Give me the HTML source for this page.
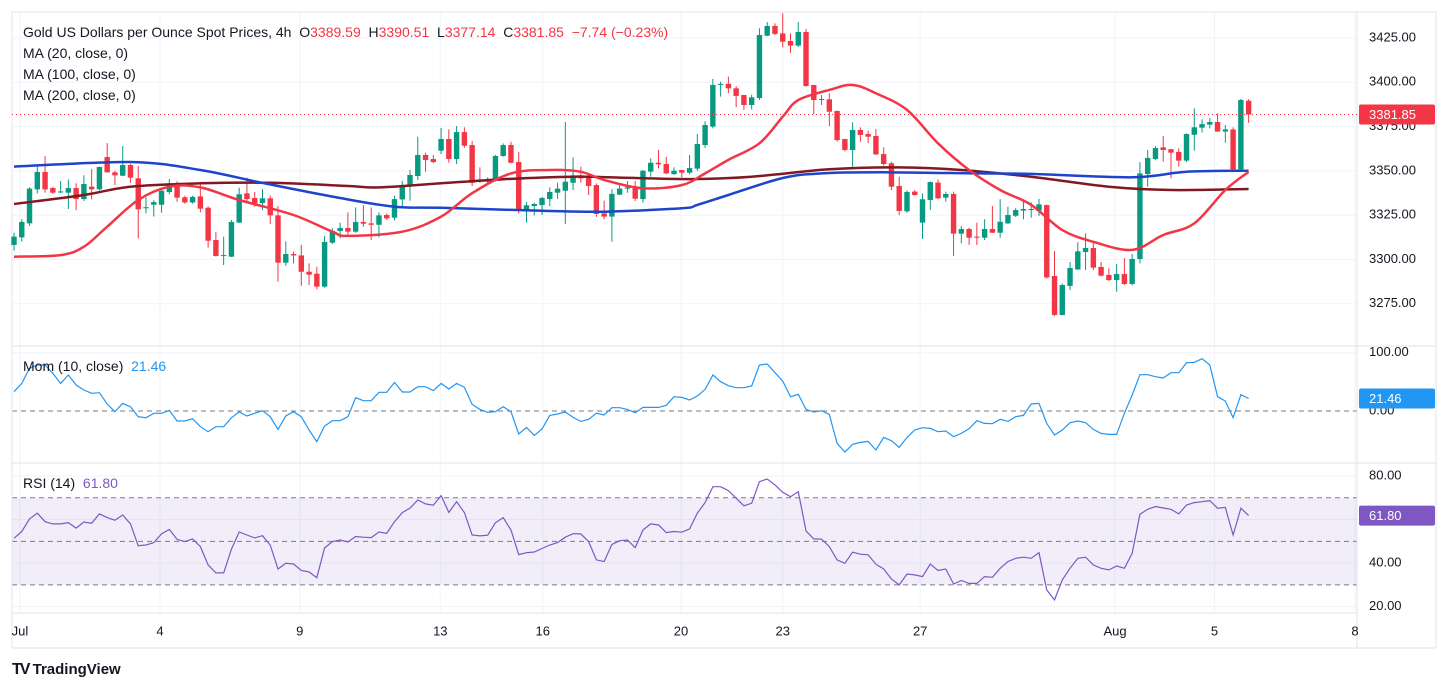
<!DOCTYPE html>
<html><head><meta charset="utf-8">
<style>
html,body{margin:0;padding:0;background:#fff;}
body{width:1449px;height:693px;overflow:hidden;font-family:"Liberation Sans",Arial,sans-serif;}
#wrap{position:relative;width:1449px;height:693px;}
svg{position:absolute;left:0;top:0;}
.legend{position:absolute;left:23px;font-size:14px;color:#131722;white-space:nowrap;}
.red{color:#F23645;}
</style></head>
<body>
<div id="wrap">
<svg id="chart" width="1449" height="693"></svg>
<div class="legend" style="top:24px">Gold US Dollars per Ounce Spot Prices, 4h&nbsp; O<span class="red">3389.59</span>&nbsp; H<span class="red">3390.51</span>&nbsp; L<span class="red">3377.14</span>&nbsp; C<span class="red">3381.85</span>&nbsp; <span class="red">−7.74 (−0.23%)</span></div>
<div class="legend" style="top:45px">MA (20, close, 0)</div>
<div class="legend" style="top:66px">MA (100, close, 0)</div>
<div class="legend" style="top:87px">MA (200, close, 0)</div>
<div class="legend" style="top:358px">Mom (10, close)&nbsp; <span style="color:#2196F3">21.46</span></div>
<div class="legend" style="top:475px">RSI (14)&nbsp; <span style="color:#7E57C2">61.80</span></div>
<div style="position:absolute;left:12px;top:661px;font-size:15px;font-weight:bold;color:#131722"><span style="font-size:16px;letter-spacing:-2px">TV</span>&nbsp;TradingView</div>
</div>
<script>
const opens=[3308.2,3312.5,3320.4,3339.6,3349.4,3340.3,3338.1,3337.7,3340.3,3334.1,3341.1,3339.6,3357.8,3349.2,3347.3,3353.3,3345.8,3328.9,3330.9,3330.9,3338.1,3343.0,3335.1,3332.2,3335.6,3329.2,3311.0,3302.3,3301.6,3320.8,3337.3,3334.7,3331.9,3334.5,3324.9,3298.2,3303.1,3302.3,3293.1,3292.0,3284.7,3309.5,3316.1,3317.8,
3315.7,3321.2,3320.4,3319.6,3325.1,3323.6,3333.9,3341.5,3347.1,3359.0,3356.7,3361.4,3368.0,3356.7,3371.9,3364.6,3345.2,3343.9,3344.9,3358.4,3364.6,3355.0,3328.3,3330.2,3330.7,3334.1,3337.7,3338.8,3343.3,3347.5,3347.1,3342.0,3326.0,3324.2,3336.6,3340.0,3341.1,3334.1,3349.6,3354.6,3353.9,3348.2,3350.5,3349.0,
3351.3,3364.6,3375.0,3398.5,3399.1,3396.6,3392.8,3387.2,3391.1,3426.3,3431.8,3427.6,3423.3,3420.7,3428.4,3398.5,3390.6,3390.4,3383.8,3368.0,3361.8,3373.1,3370.8,3369.7,3359.5,3354.3,3341.5,3327.2,3338.3,3320.8,3333.6,3343.4,3334.9,3337.0,3314.6,3317.2,3312.9,3312.3,3317.2,3315.1,3320.4,3324.7,3327.6,
3328.3,3327.6,3330.7,3290.7,3268.7,3285.1,3294.4,3304.2,3306.5,3295.8,3291.3,3288.4,3291.8,3286.2,3300.3,3348.2,3356.7,3363.3,3362.2,3360.7,3355.8,3370.4,3374.4,3376.1,3377.6,3372.2,3373.4,3350.9,3389.59];
const highs=[3315.1,3322.7,3340.7,3353.3,3358.4,3341,3344.3,3345.2,3343,3347.5,3351.1,3352.5,3365.7,3350,3364.0,3354,3352.8,3335.1,3333.5,3339.6,3345.4,3344.1,3336,3336,3342.6,3330,3315.5,3312.9,3322.3,3340.5,3346.2,3338.1,3339.8,3336,3330.2,3310.2,3304.4,3308.2,3297.8,3295.9,3313.3,3317.6,3320.8,3326.6,
3329.4,3330.7,3329.4,3326.6,3326.0,3336.0,3344.3,3350.5,3369.3,3360.3,3359.0,3374.2,3373.4,3375.3,3374.6,3366.9,3352.0,3346.4,3359,3365.5,3366.5,3360.7,3332.4,3332.1,3335.4,3340.7,3343.3,3377.6,3357.6,3352.4,3348.6,3343.0,3333.2,3339.6,3341.8,3344.3,3344.3,3350.5,3357.1,3361.8,3358.0,3352.0,3350.5,3359.0,
3370.8,3378,3401.9,3400.4,3403.2,3397.9,3393,3393,3430.5,3434.0,3433.3,3438.9,3427.6,3434.0,3430.1,3398.5,3392.8,3393.8,3384,3368,3377.4,3374.6,3372.7,3373.6,3363.3,3355.2,3346.7,3339,3339.2,3337.3,3344,3345.2,3338.3,3338.3,3318.9,3318,3320.8,3322.7,3330.2,3334.0,3329.8,3329,3334.0,
3332.3,3334.2,3331,3304.8,3286.5,3298.6,3309.7,3314.7,3309.5,3298.6,3295.0,3297.5,3300.8,3303.1,3355.0,3361.8,3364.0,3369.7,3362.5,3362.7,3371.2,3385.3,3379.1,3379.7,3382.5,3375.9,3374.6,3390.6,3390.51];
const lows=[3305,3310.1,3318.9,3337.3,3337.7,3337,3337.5,3328.5,3327.9,3333,3333.9,3339,3349,3342,3347,3343.3,3311.9,3326.0,3324.2,3326.4,3336.8,3332.6,3331.5,3331.5,3326.6,3306.7,3301.6,3296.9,3301.4,3320.8,3333,3329.8,3327.9,3320.0,3287.5,3296.5,3297.8,3285.2,3285.6,3283.2,3284,3308.7,3311.9,3314,
3315.1,3318.5,3311.0,3312.5,3322.3,3322,3330.2,3333.2,3344.9,3349.6,3354.3,3359.5,3354.6,3353.9,3363,3341.5,3343.3,3342.6,3344,3358,3354.3,3326.0,3320.8,3324.9,3325.1,3330.2,3334.3,3320.0,3339.2,3343.3,3336.4,3324,3322.7,3310.1,3336.4,3337.7,3333,3332.1,3346.7,3351.4,3348.2,3347.7,3346.4,3348,
3350,3363,3374,3391.9,3393.8,3385.9,3384.4,3384.7,3390,3426,3426.7,3419.7,3416.7,3420,3397.5,3382.1,3387.2,3375.3,3366.5,3361,3352.0,3366.5,3365.6,3359,3353.0,3339.2,3325.1,3326.4,3336,3311.6,3328.0,3334,3332.6,3302.0,3309.1,3308.2,3308.2,3311,3315,3312.3,3320.0,3324,3322.7,
3323.6,3324.5,3289.2,3268.1,3268.5,3282.8,3294.1,3294.1,3294,3290.3,3288,3281.8,3285.6,3285.4,3297.8,3341.1,3356,3355.2,3345.8,3352.4,3355,3361.4,3371.6,3374.0,3372,3365.9,3350.1,3349.6,3377.14];
const closes=[3312.9,3321.2,3340.0,3349.4,3339.6,3337.7,3338.4,3340.3,3334.1,3342.6,3339.6,3352.2,3349.2,3347.5,3353.3,3346.2,3328.3,3329.5,3332.4,3338.8,3343.0,3334.9,3332.2,3335.3,3328.7,3310.6,3302.0,3302.5,3321.2,3336.8,3334.1,3331.7,3334.5,3324.9,3298.2,3303.1,3302.3,3293.1,3291.4,3284.7,3309.9,3316.1,3317.8,3315.7,
3321.2,3320.2,3319.6,3324.9,3323.2,3334.1,3342.0,3347.7,3359.0,3356.1,3355.0,3368.0,3356.7,3371.9,3364.2,3343.3,3343.9,3345.4,3358.4,3364.6,3354.6,3328.3,3330.6,3331.3,3334.7,3338.1,3340.0,3343.9,3347.5,3345.8,3341.5,3325.7,3324.2,3337.0,3340.0,3340.7,3334.3,3350.1,3354.6,3353.7,3348.6,3350.1,3349.0,3351.6,
3365.2,3375.9,3398.5,3399.1,3396.6,3392.3,3387.2,3391.5,3426.7,3431.8,3427.3,3422.9,3420.7,3428.4,3397.9,3390.0,3390.4,3383.4,3367.4,3361.8,3373.1,3370.3,3369.3,3359.3,3353.9,3341.1,3327.4,3338.1,3336.4,3334.0,3343.7,3334.5,3337.0,3314.6,3317.2,3312.3,3312.3,3317.2,3315.1,3321.3,3325.1,3327.9,3328.5,
3328.5,3331.1,3289.9,3268.7,3285.6,3295.2,3304.6,3306.5,3295.4,3290.9,3288.4,3291.8,3286.2,3300.3,3348.6,3357.3,3362.9,3361.8,3360.3,3355.8,3370.8,3374.6,3376.4,3377.6,3372.2,3373.4,3350.9,3390.0,3381.85];
const ma20Idx=[0,6,9,12,16,20,24,29,36,41,43,50,55,59,64,69,73,76,81,86,89,92,96,99,101,105,108,111,115,119,123,127,131,135,139,144,148,152,156,159];
const ma20Val=[3301.6,3302.5,3307.2,3318.5,3333.6,3341.1,3340.7,3333.6,3325.1,3315.7,3313.3,3315.7,3324.2,3337.4,3348.6,3350.5,3349.5,3344.9,3340.2,3342.0,3348.6,3356.2,3365.6,3380.6,3390.0,3395.7,3398.5,3393.8,3384.4,3365.6,3350.5,3339.2,3330.8,3316.6,3310.0,3305.4,3313.8,3320.4,3339.2,3349.5];
const ma100Idx=[0,15,24,32,42,49,55,68,76,86,88,92,99,104,112,124,131,144,151,159];
const ma100Val=[3352.4,3355.0,3350.5,3343.2,3334.7,3329.8,3329.2,3327.5,3327.0,3328.9,3330.8,3336.4,3346.0,3348.6,3349.2,3348.6,3348.3,3346.4,3349.5,3350.1];
const ma200Idx=[0,9,15,24,33,43,47,55,63,72,78,87,95,105,114,122,131,141,149,159];
const ma200Val=[3331.3,3336.4,3341.1,3343.0,3343.3,3341.5,3340.7,3343.0,3345.3,3346.7,3346.2,3345.4,3346.7,3350.9,3352.0,3350.5,3346.7,3341.1,3339.2,3339.8];
const momVals=[33.1,47.4,73.1,78.9,78.9,64.6,47.4,61.7,44.6,36.0,30.3,31.4,12.0,-1.2,13.1,7.4,-9.8,-11.5,-4.0,-4.0,1.1,-17.2,-17.2,-13.2,-26.9,-35.5,-26.9,-26.9,-11.5,-1.8,-8.6,-4.0,0.5,-9.8,-31.5,-8.6,-1.2,-9.8,-32.6,-52.6,-25.8,-16.6,-16.6,-9.8,22.8,17.7,17.7,32.0,32.0,49.1,32.6,32.6,41.7,41.7,34.8,47.4,37.7,47.4,40.6,11.4,2.8,-2.3,-1.2,7.4,-1.2,-39.5,-28.1,-41.8,-30.9,-7.5,-5.2,-1.8,-10.9,-17.8,-14.3,-4.0,-6.9,5.7,5.7,2.8,-2.9,6.2,
6.2,6.2,9.7,24.5,23.4,18.8,25.7,37.1,61.7,50.3,43.4,40.0,40.0,42.8,78.9,80.6,65.7,51.4,24.5,28.5,2.8,-1.8,0.5,-5.8,-55.5,-70.4,-57.2,-53.8,-52.1,-66.9,-45.2,-50.9,-62.4,-45.2,-32.6,-28.6,-29.8,-35.5,-34.3,-44.1,-38.4,-30.3,-16.6,-21.2,-21.8,-14.3,-17.8,-9.8,-7.5,12.0,13.1,-21.2,-41.2,-32.6,-20.1,-17.2,-20.1,-31.5,-38.4,-40.1,-40.1,-4.0,27.4,62.3,62.3,58.9,56.6,65.7,65.7,82.9,83.4,89.7,78.9,24.5,17.1,-11.5,28.0,21.46];
const rsiVals=[51.4,54.5,60.3,62.9,59.0,58.0,58.0,58.6,56.1,58.9,58.3,62.6,60.9,59.7,62.1,58.0,48.0,48.3,49.4,53.4,55.5,50.9,49.9,51.1,47.6,39.2,35.5,35.5,46.4,54.3,52.9,51.6,52.6,48.3,37.3,39.9,39.6,36.6,35.9,33.3,47.0,49.9,50.6,49.7,52.2,51.9,51.7,54.3,53.7,59.0,63.2,65.2,69.0,67.2,66.6,71.0,63.3,68.2,63.2,52.9,52.5,52.8,58.5,60.9,55.2,43.9,44.8,45.1,46.7,48.3,49.4,51.9,53.5,53.4,49.9,41.5,40.7,48.6,50.3,50.6,47.1,55.2,
58.0,57.5,54.0,54.5,54.2,55.7,62.9,67.8,75.1,75.1,73.3,69.8,66.3,67.5,77.4,78.6,75.9,72.5,70.5,72.8,54.8,51.1,51.0,47.6,41.5,39.9,45.0,44.1,43.8,39.5,37.3,32.7,30.0,35.0,34.6,33.8,39.6,36.6,37.3,30.4,32.0,30.7,30.7,33.8,33.5,37.6,40.7,42.2,42.7,42.2,44.8,27.7,23.1,32.3,37.6,42.2,42.7,39.2,37.6,36.9,38.7,37.6,44.5,62.4,64.7,66.0,65.3,64.7,62.6,66.7,67.8,68.2,68.7,65.2,65.6,52.9,65.2,61.8];
const priceTicks=[3425,3400,3375,3350,3325,3300,3275];
const momTicks=[100,0];
const rsiTicks=[80,60,40,20];
const rsiBands=[70,50,30];
const dateLabels=['Jul','4','9','13','16','20','23','27','Aug','5','8'];
const dateIdx=[0.77,18.8,36.8,54.9,68.1,85.9,99.0,116.7,141.8,154.6,172.7];
const lastPrice=3381.85, lastMom=21.46, lastRsi=61.80;

const NS='http://www.w3.org/2000/svg';
const svg=document.getElementById('chart');
const X0=14, STEP=7.765, PL=12, PR=1357;
const xOf=i=>X0+i*STEP;
const yP=p=>38+(3425-p)*1.772;
const yM=v=>411-v*0.583;
const yR=v=>476+(80-v)*2.178;
function mk(tag,attrs,parent){const e=document.createElementNS(NS,tag);for(const k in attrs)e.setAttribute(k,attrs[k]);(parent||svg).appendChild(e);return e;}

let g=mk('g',{});


priceTicks.forEach(p=>{mk('line',{x1:PL,x2:PR,y1:yP(p),y2:yP(p),stroke:'#F0F3FA','stroke-width':1},g);});
momTicks.slice(0,1).forEach(v=>{mk('line',{x1:PL,x2:PR,y1:yM(v),y2:yM(v),stroke:'#F0F3FA'},g);});
rsiTicks.forEach(v=>{mk('line',{x1:PL,x2:PR,y1:yR(v),y2:yR(v),stroke:'#F0F3FA'},g);});
dateIdx.forEach(i=>{const x=xOf(i);if(x<PR)mk('line',{x1:x,x2:x,y1:12,y2:613,stroke:'#F0F3FA'},g);});
const band=mk('rect',{x:PL,y:yR(rsiBands[0]),width:PR-PL,height:yR(rsiBands[2])-yR(rsiBands[0]),fill:'rgba(126,87,194,0.1)'});


rsiBands.forEach(v=>{const l=mk('line',{x1:PL,x2:PR,y1:yR(v),y2:yR(v),stroke:'#787B86','stroke-dasharray':'5,4','stroke-width':1});

});
const zl=mk('line',{x1:PL,x2:PR,y1:yM(0),y2:yM(0),stroke:'#787B86','stroke-dasharray':'5,4'});


[[PL,12,PL,648],[PR,12,PR,648],[1436,12,1436,648],[PL,346,1436,346],[PL,463,1436,463],[PL,613,PR,613],[PL,648,1436,648],[PL,12,1436,12]].forEach(a=>{
mk('line',{x1:a[0],y1:a[1],x2:a[2],y2:a[3],stroke:'#E0E3EB','stroke-width':1});});

const cg=mk('g',{});


closes.forEach((c,i)=>{
 const o=opens[i],up=c>=o,col=up?'#089981':'#F23645',x=xOf(i);
 const cd=mk('g',{},cg);
 
 
 mk('line',{x1:x,x2:x,y1:yP(highs[i]),y2:yP(lows[i]),stroke:col,'stroke-width':1},cd);
 const t=yP(Math.max(o,c)),b=yP(Math.min(o,c));
 mk('rect',{x:x-2.7,y:t,width:5.4,height:Math.max(1,b-t),fill:col},cd);
});
function path(idx,vals,fy){return vals.map((v,k)=>(k?'L':'M')+xOf(idx?idx[k]:k).toFixed(1)+','+fy(v).toFixed(1)).join(' ');}
function smooth(idx,vals,fy){
 const p=vals.map((v,k)=>[xOf(idx[k]),fy(v)]);
 let d='M'+p[0][0].toFixed(1)+','+p[0][1].toFixed(1);
 for(let i=0;i<p.length-1;i++){
  const p0=p[Math.max(0,i-1)],p1=p[i],p2=p[i+1],p3=p[Math.min(p.length-1,i+2)];
  const c1=[p1[0]+(p2[0]-p0[0])/6,p1[1]+(p2[1]-p0[1])/6];
  const c2=[p2[0]-(p3[0]-p1[0])/6,p2[1]-(p3[1]-p1[1])/6];
  d+=' C'+c1[0].toFixed(1)+','+c1[1].toFixed(1)+' '+c2[0].toFixed(1)+','+c2[1].toFixed(1)+' '+p2[0].toFixed(1)+','+p2[1].toFixed(1);
 }
 return d;
}
const m200=mk('path',{d:smooth(ma200Idx,ma200Val,yP),fill:'none',stroke:'#801922','stroke-width':2.5,'stroke-linejoin':'round'});


const m100=mk('path',{d:smooth(ma100Idx,ma100Val,yP),fill:'none',stroke:'#1E44CC','stroke-width':2.5,'stroke-linejoin':'round'});


const m20=mk('path',{d:smooth(ma20Idx,ma20Val,yP),fill:'none',stroke:'#F23645','stroke-width':2.5,'stroke-linejoin':'round'});


const pl=mk('line',{x1:PL,x2:PR,y1:yP(lastPrice),y2:yP(lastPrice),stroke:'#F23645','stroke-dasharray':'1,3'});


const mom=mk('path',{d:path(null,momVals,yM),fill:'none',stroke:'#2196F3','stroke-width':1.2});


const rsi=mk('path',{d:path(null,rsiVals,yR),fill:'none',stroke:'#7E57C2','stroke-width':1.2});



function lab(txt,x,y,name,anchor,col){const t=mk('text',{x:x,y:y,'font-size':13,fill:col||'#131722','font-family':'Liberation Sans, sans-serif','text-anchor':anchor||'start','dominant-baseline':'middle'});t.textContent=txt;

return t;}
priceTicks.forEach(p=>lab(p.toFixed(2),1369,yP(p),'price-tick-label'));
momTicks.forEach(v=>lab(v.toFixed(2),1369,yM(v),'mom-tick-label'));
rsiTicks.forEach(v=>lab(v.toFixed(2),1369,yR(v),'rsi-tick-label'));
dateLabels.forEach((d,k)=>{const x=xOf(dateIdx[k]);lab(d,x,632,'date-label','middle');});
function box(v,y,col,name){const r=mk('rect',{x:1359,y:y-10,width:76,height:20,fill:col,rx:2});


lab(v,1369,y+1,name+'-text',null,'#fff');}
box(lastPrice.toFixed(2),yP(lastPrice),'#F23645','last-price-badge');
box(lastMom.toFixed(2),yM(lastMom),'#2196F3','mom-value-badge');
box(lastRsi.toFixed(2),yR(lastRsi),'#7E57C2','rsi-value-badge');
</script>
</body></html>
